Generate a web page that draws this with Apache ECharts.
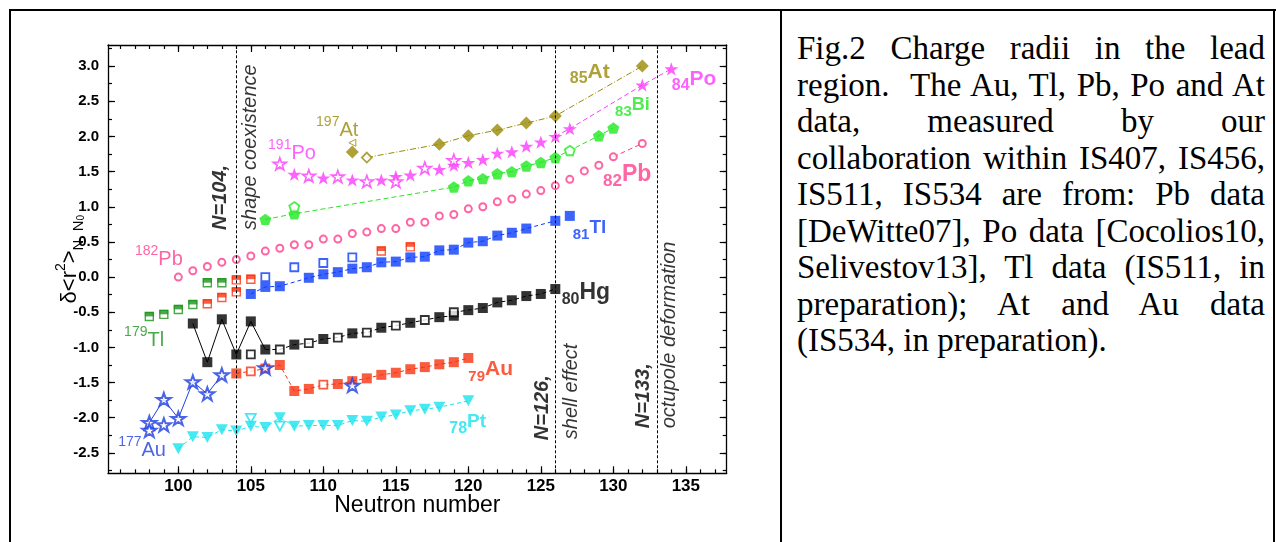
<!DOCTYPE html>
<html><head><meta charset="utf-8">
<script src="https://cdn.jsdelivr.net/npm/echarts@6/dist/echarts.min.js"></script>
<style>
html,body{margin:0;padding:0;background:#fff;width:1276px;height:542px;overflow:hidden;}
.ln{position:absolute;background:#000;}
#chart{position:absolute;left:0;top:0;width:780px;height:542px;}
#cap{position:absolute;left:797px;top:30px;width:468px;font-family:'Liberation Serif','Times New Roman',serif;font-size:33px;line-height:36.5px;color:#000;}
#cap div{text-align:justify;text-align-last:justify;white-space:nowrap;}
#cap div.last{text-align-last:left;}
</style></head><body>
<div class="ln" style="left:9px;top:9px;width:1267px;height:2px"></div>
<div class="ln" style="left:9px;top:9px;width:2px;height:533px"></div>
<div class="ln" style="left:780px;top:9px;width:2px;height:533px"></div>
<div class="ln" style="left:1273px;top:9px;width:2px;height:533px"></div>
<div id="chart"></div>
<div id="cap">
<div>Fig.2 Charge radii in the lead</div>
<div>region.&nbsp; The Au, Tl, Pb, Po and At</div>
<div>data, measured by our</div>
<div>collaboration within IS407, IS456,</div>
<div>IS511, IS534 are from: Pb data</div>
<div>[DeWitte07], Po data [Cocolios10,</div>
<div>Selivestov13], Tl data (IS511, in</div>
<div>preparation); At and Au data</div>
<div class="last">(IS534, in preparation).</div>
</div>
<script>
// ---- tick labels ----
const xTickLabels = [100,105,110,115,120,125,130,135];
const yTickLabels = [-2.5,-2.0,-1.5,-1.0,-0.5,0.0,0.5,1.0,1.5,2.0,2.5,3.0];
const xMinorTicks = []; for (let n = 96; n <= 137; n++) xMinorTicks.push(n);
const yMinorTicks = []; for (let k = -11; k <= 13; k++) yMinorTicks.push(k * 0.25);
const nMarkers = [104, 126, 133];

// ---- data: [neutron number, delta<r^2>] ----
const ptFilled = [[100,-2.44],[101,-2.27],[102,-2.28],[103,-2.17],[104,-2.19],[105,-2.12],[106,-2.14],[107,-2.00],[108,-2.12],[109,-2.11],[110,-2.11],[111,-2.11],[112,-2.04],[113,-2.05],[114,-1.99],[115,-1.96],[116,-1.90],[117,-1.88],[118,-1.85],[120,-1.76]];
const ptOpen = [[105,-2.01],[107,-2.12]];
const auFilled = [[104,-1.37],[106,-1.30],[107,-1.25],[108,-1.62],[109,-1.59],[111,-1.52],[112,-1.48],[113,-1.44],[114,-1.39],[115,-1.36],[116,-1.31],[117,-1.28],[118,-1.24],[119,-1.21],[120,-1.15]];
const auOpen = [[105,-1.34],[110,-1.53]];
const auIsomer = [[102,-0.38],[103,-0.29],[104,-0.21],[104,-0.04],[105,-0.03],[114,0.37],[116,0.43]];
const auStarsChain = [[98,-2.07],[99,-1.74],[100,-2.01],[101,-1.49],[102,-1.66],[103,-1.39]];
const auStarsOther = [[98,-2.18],[99,-2.10],[106,-1.29],[112,-1.54]];
const hgFilled = [[101,-0.66],[102,-1.21],[103,-0.60],[104,-1.10],[105,-0.63],[106,-1.03],[108,-0.96],[110,-0.88],[112,-0.80],[114,-0.72],[116,-0.65],[118,-0.57],[119,-0.55],[120,-0.47],[121,-0.44],[122,-0.36],[123,-0.33],[124,-0.27],[125,-0.24],[126,-0.17]];
const hgOpen = [[105,-1.10],[107,-1.03],[109,-0.94],[111,-0.86],[113,-0.79],[115,-0.69],[117,-0.61],[119,-0.50]];
const tlFilled = [[105,-0.24],[106,-0.14],[107,-0.13],[109,-0.01],[110,0.04],[111,0.07],[112,0.12],[113,0.14],[114,0.21],[115,0.22],[116,0.28],[117,0.29],[118,0.38],[119,0.39],[120,0.49],[121,0.51],[122,0.59],[123,0.63],[124,0.69],[126,0.80],[127,0.87]];
const tlOpen = [[106,0.00],[108,0.14],[110,0.20],[112,0.28]];
const tlIsomer = [[98,-0.56],[99,-0.53],[100,-0.46],[101,-0.39],[102,-0.08],[103,-0.08]];
const pbOpen = [[100,0.00],[101,0.09],[102,0.15],[103,0.21],[104,0.25],[105,0.30],[106,0.37],[107,0.41],[108,0.46],[109,0.46],[110,0.54],[111,0.54],[112,0.62],[113,0.64],[114,0.69],[115,0.69],[116,0.78],[117,0.78],[118,0.87],[119,0.89],[120,0.97],[121,1.00],[122,1.07],[123,1.11],[124,1.18],[125,1.23],[126,1.30],[127,1.39],[128,1.51],[129,1.59],[130,1.71],[132,1.90]];
const biFilled = [[106,0.82],[108,0.90],[119,1.28],[120,1.37],[121,1.40],[122,1.47],[123,1.50],[124,1.58],[125,1.63],[126,1.70],[129,2.01],[130,2.12]];
const biOpen = [[108,1.00],[127,1.80]];
const poFilled = [[108,1.46],[110,1.41],[112,1.38],[114,1.38],[115,1.43],[116,1.45],[118,1.53],[119,1.59],[120,1.63],[121,1.67],[122,1.76],[123,1.78],[124,1.86],[125,1.92],[126,2.00],[127,2.11],[132,2.73],[134,2.96]];
const poOpen = [[107,1.61],[109,1.44],[111,1.43],[113,1.36],[115,1.36],[117,1.55],[119,1.66]];
const atFilled = [[112,1.78],[118,1.89],[120,2.01],[122,2.09],[124,2.19],[126,2.29],[132,3.00]];
const atOpen = [[113,1.70]];
const atIsomer = [[112,1.91]];

// ---- styling ----
const FONT = "'Liberation Sans', Arial, Helvetica, sans-serif";
const C = {pt:'#18e4ee', au:'#f7330f', auStar:'#1f3fe0', hg:'#000000', tl:'#0b3cfb', tlIso:'#1c941c',
           pb:'#ff3d8c', bi:'#22e822', po:'#fb3cfb', at:'#9a8a06'};
const STAR = 'path://M50,2L61.8,36.2L97.6,36.2L68.6,57.3L79.7,91.4L50,70.3L20.3,91.4L31.4,57.3L2.4,36.2L38.2,36.2Z';
const PENT = 'path://M50,2L97.6,36.5L79.4,92.5L20.6,92.5L2.4,36.5Z';
const merge = (a, b) => a.concat(b).sort((p, q) => p[0] - q[0]);

const series = [];
function line(data, color, type, width, extra) {
  series.push(Object.assign({type:'line', data, symbol:'none', showSymbol:false, silent:true, z:2,
    lineStyle:{color, type, width}}, extra || {}));
}
function pts(data, symbol, size, color, open, extra) {
  series.push(Object.assign({type:'scatter', data, symbol, symbolSize:size, symbolKeepAspect:true, silent:true, z:3,
    itemStyle: open ? {color:'#fff', borderColor:color, borderWidth:1.8} : {color}}, extra || {}));
}

// lines
line(ptFilled, C.pt, [4,3], 1, {markLine:{symbol:['none','none'], silent:true, label:{show:false},
  lineStyle:{color:'#000', type:[3,2], width:1}, data: nMarkers.map(n => ({xAxis:n}))}});
line(merge(auFilled, auOpen), C.au, [4,3], 1);
line(auStarsChain, C.auStar, 'solid', 1);
line(hgFilled.filter(p => p[0] <= 106), C.hg, 'solid', 1);
line(merge(hgFilled.filter(p => p[0] >= 106), hgOpen.filter(p => p[0] >= 107)), C.hg, [4,3], 1);
line(tlFilled.filter(p => p[0] <= 126), C.tl, [4,3], 1);
line(pbOpen.filter(p => p[0] >= 130), C.pb, [5,3], 1);
line(merge(biFilled, biOpen.filter(p => p[0] > 110)), C.bi, [5,3], 1);
line(poFilled.filter(p => p[0] >= 126), C.po, [5,3], 1);
line(merge(atOpen, atFilled.filter(p => p[0] >= 118)), C.at, [6,2,1,2], 1);

// markers
pts(ptFilled, 'triangle', [12,11], C.pt, false, {symbolRotate:180});
pts(ptOpen, 'triangle', [10,9], C.pt, true, {symbolRotate:180});
pts(auFilled, 'rect', 10, C.au, false);
pts(auOpen, 'rect', 8, C.au, true);
pts(auIsomer, 'rect', 8, C.au, true, {itemStyle:{color:'#fff', borderColor:C.au, borderWidth:1.4}});
pts(auIsomer, 'rect', [9,4.5], C.au, false, {symbolOffset:[0,-2.3], symbolKeepAspect:false});
pts(auStarsChain.concat(auStarsOther), STAR, 14, C.auStar, true, {itemStyle:{color:'#fff', borderColor:C.auStar, borderWidth:2}});
pts(hgFilled, 'rect', 10, C.hg, false);
pts(hgOpen, 'rect', 8, C.hg, true);
pts(tlFilled, 'rect', 10, C.tl, false);
pts(tlOpen, 'rect', 8, C.tl, true);
pts(tlIsomer, 'rect', 8, C.tlIso, true, {itemStyle:{color:'#fff', borderColor:C.tlIso, borderWidth:1.4}});
pts(tlIsomer, 'rect', [9,4.5], C.tlIso, false, {symbolOffset:[0,-2.3], symbolKeepAspect:false});
pts(pbOpen, 'circle', 7, C.pb, true, {itemStyle:{color:'#fff', borderColor:C.pb, borderWidth:2}});
pts(biFilled, PENT, 12, C.bi, false);
pts(biOpen, PENT, 10, C.bi, true);
pts(poFilled, STAR, 14, C.po, false);
pts(poOpen, STAR, 13, C.po, true, {itemStyle:{color:'#fff', borderColor:C.po, borderWidth:1.6}});
pts(atFilled, 'diamond', 13, C.at, false);
pts(atOpen, 'diamond', 10, C.at, true);
pts(atIsomer, 'triangle', 7, C.at, true, {symbolRotate:90, itemStyle:{color:'#fff', borderColor:C.at, borderWidth:1}});

// ---- text annotations (anchored in data units) ----
function supLabel(text, num, color, elSize, numSize, bold, sub) {
  return {show:true, position:'inside', align:'left', verticalAlign:'middle',
    formatter: '{n|' + num + '}{e|' + text + '}',
    rich:{
      n:{fontSize:numSize, lineHeight:10, verticalAlign: sub ? 'bottom' : 'top', color, fontFamily:FONT, fontWeight: bold ? 'bold' : 'normal'},
      e:{fontSize:elSize, lineHeight:30, color, fontFamily:FONT, fontWeight: bold ? 'bold' : 'normal'}
    }};
}
const notes = [
  {value:[95.85,-2.46], label:supLabel('Au','177',C.auStar,20,14,false,false)},
  {value:[96.26,-0.90], label:supLabel('Tl','179',C.tlIso,20,14,false,false)},
  {value:[97.01,0.25], label:supLabel('Pb','182',C.pb,20,14,false,false)},
  {value:[106.19,1.76], label:supLabel('Po','191',C.po,20,14,false,false)},
  {value:[109.5,2.09], label:supLabel('At','197',C.at,20,14,false,false)},
  {value:[127.0,2.92], label:supLabel('At','85',C.at,21,16,true,true)},
  {value:[134.03,2.82], label:supLabel('Po','84',C.po,21,16,true,true)},
  {value:[130.12,2.45], label:supLabel('Bi','83',C.bi,18,15,true,true)},
  {value:[129.29,1.46], label:supLabel('Pb','82',C.pb,23,17,true,true)},
  {value:[127.2,0.70], label:supLabel('Tl','81',C.tl,19,15,true,true)},
  {value:[126.44,-0.22], label:supLabel('Hg','80','#000',23,16,true,true)},
  {value:[120.0,-1.31], label:supLabel('Au','79',C.au,21,15,true,true)},
  {value:[118.69,-2.06], label:supLabel('Pt','78',C.pt,19,16,true,true)}
];
function vText(text, bold) {
  return {show:true, position:'inside', align:'left', verticalAlign:'middle', rotate:90,
    formatter:text, fontSize:20, fontStyle:'italic', fontWeight: bold ? 'bold' : 'normal', color:'#000', fontFamily:FONT};
}
const vNotes = [
  {value:[102.94,0.67], label:vText('N=104,', true)},
  {value:[104.94,0.67], label:vText('shape coexistence', false)},
  {value:[125.12,-2.32], label:vText('N=126,', true)},
  {value:[127.08,-2.305], label:vText('shell effect', false)},
  {value:[132.07,-2.15], label:vText('N=133,', true)},
  {value:[133.84,-2.15], label:vText('octupole deformation', false)}
];
series.push({type:'scatter', data:notes.concat(vNotes), symbolSize:0, silent:true, z:5, itemStyle:{color:'transparent'}});

// ---- axes ----
const XR = {min:95.15, max:137.82};
const YR = {min:-2.79, max:3.30};
const axLine = {show:true, onZero:false, lineStyle:{color:'#000', width:1.3}};
function xAx(pos, ticks, len, withLine, withLabels) {
  const a = {type:'value', min:XR.min, max:XR.max, position:pos, splitLine:{show:false},
    axisLine: withLine ? axLine : {show:false, onZero:false},
    axisTick:{show:true, inside:true, length:len, customValues:ticks, lineStyle:{color:'#000', width:1.2}},
    axisLabel:{show:false}};
  if (withLabels) {
    a.axisLabel = {show:true, customValues:xTickLabels, fontSize:17, fontWeight:'bold', color:'#000', fontFamily:FONT, margin:5};
    a.name = 'Neutron number'; a.nameLocation = 'middle'; a.nameGap = 21; a.nameMoveOverlap = false;
    a.nameTextStyle = {fontSize:23, color:'#000', fontFamily:FONT};
  }
  return a;
}
function yAx(pos, ticks, len, withLine, withLabels) {
  const a = {type:'value', min:YR.min, max:YR.max, position:pos, splitLine:{show:false},
    axisLine: withLine ? axLine : {show:false, onZero:false},
    axisTick:{show:true, inside:true, length:len, customValues:ticks, lineStyle:{color:'#000', width:1.2}},
    axisLabel:{show:false}};
  if (withLabels) {
    a.axisLabel = {show:true, customValues:yTickLabels, formatter:v => v.toFixed(1), fontSize:15, fontWeight:'bold', color:'#000', fontFamily:FONT, margin:9};
    a.name = '{m|δ<r}{p|2}{m|>}{b|N, N}{c|0}';
    a.nameLocation = 'middle'; a.nameRotate = 90; a.nameGap = 22; a.nameMoveOverlap = false;
    a.nameTextStyle = {color:'#000', fontFamily:FONT, rich:{
      m:{fontSize:22, lineHeight:32, color:'#000', fontFamily:FONT},
      p:{fontSize:14, lineHeight:8, verticalAlign:'top', color:'#000', fontFamily:FONT},
      b:{fontSize:15, lineHeight:14, verticalAlign:'bottom', color:'#000', fontFamily:FONT},
      c:{fontSize:10, lineHeight:8, verticalAlign:'bottom', color:'#000', fontFamily:FONT}}};
  }
  return a;
}

const chart = echarts.init(document.getElementById('chart'), null, {renderer:'canvas'});
chart.setOption({
  animation:false,
  backgroundColor:'transparent',
  grid:{left:108, right:53.3, top:45, bottom:68.7, containLabel:false, outerBoundsMode:'none'},
  xAxis:[xAx('bottom', xTickLabels, 7, true, true), xAx('bottom', xMinorTicks, 4, false, false),
         xAx('top', xTickLabels, 7, true, false), xAx('top', xMinorTicks, 4, false, false)],
  yAxis:[yAx('left', yTickLabels, 7, true, true), yAx('left', yMinorTicks, 4, false, false),
         yAx('right', yTickLabels, 7, true, false), yAx('right', yMinorTicks, 4, false, false)],
  series
});
</script>
</body></html>
